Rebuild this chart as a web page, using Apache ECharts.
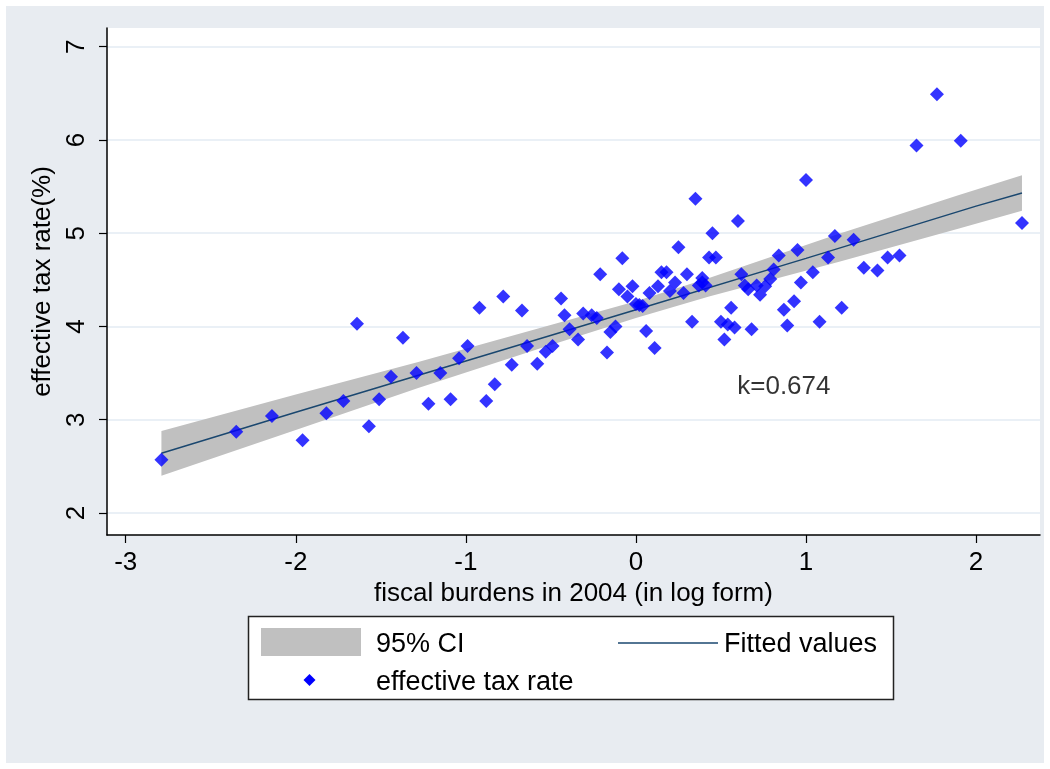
<!DOCTYPE html>
<html>
<head>
<meta charset="utf-8">
<script src="https://cdn.jsdelivr.net/npm/echarts@6/dist/echarts.min.js"></script>
<style>
  html, body { margin: 0; padding: 0; background: #ffffff; }
  #chart { width: 1050px; height: 769px; }
</style>
</head>
<body>
<div id="chart"></div>
<script>
// fiscal burdens in 2004 (log) and effective tax rate (%) for each observation
const burden = [
  -2.79, -2.35, -2.14, -1.96, -1.82, -1.72, -1.64, -1.57, -1.51, -1.44,
  -1.37, -1.29, -1.22, -1.15, -1.09, -1.04, -0.99, -0.92, -0.88, -0.83,
  -0.78, -0.73, -0.67, -0.64, -0.58, -0.53, -0.49, -0.44, -0.42, -0.39,
  -0.34, -0.31, -0.26, -0.23, -0.21, -0.17, -0.15, -0.12, -0.10, -0.08,
  -0.05, -0.02, 0.00, 0.02, 0.04, 0.06, 0.08, 0.11, 0.13, 0.15,
  0.18, 0.20, 0.23, 0.25, 0.28, 0.30, 0.33, 0.35, 0.37, 0.39,
  0.39, 0.41, 0.43, 0.45, 0.47, 0.50, 0.52, 0.54, 0.56, 0.58,
  0.60, 0.62, 0.64, 0.66, 0.68, 0.71, 0.73, 0.76, 0.79, 0.81,
  0.84, 0.87, 0.89, 0.93, 0.95, 0.97, 1.00, 1.04, 1.08, 1.13,
  1.17, 1.21, 1.28, 1.34, 1.42, 1.48, 1.55, 1.65, 1.77, 1.91,
  2.27
];
const taxRate = [
  2.57, 2.87, 3.04, 2.78, 3.07, 3.20, 4.03, 2.93, 3.22, 3.46,
  3.88, 3.50, 3.17, 3.50, 3.22, 3.66, 3.79, 4.20, 3.20, 3.38,
  4.32, 3.59, 4.17, 3.79, 3.60, 3.73, 3.79, 4.30, 4.12, 3.97,
  3.86, 4.14, 4.12, 4.09, 4.56, 3.72, 3.94, 4.00, 4.40, 4.73,
  4.32, 4.43, 4.24, 4.23, 4.22, 3.95, 4.36, 3.77, 4.43, 4.58,
  4.58, 4.38, 4.47, 4.85, 4.36, 4.56, 4.05, 5.37, 4.44, 4.52,
  4.47, 4.44, 4.74, 5.00, 4.74, 4.05, 3.86, 4.02, 4.20, 3.99,
  5.13, 4.56, 4.44, 4.40, 3.97, 4.44, 4.34, 4.43, 4.51, 4.61,
  4.76, 4.18, 4.01, 4.27, 4.82, 4.47, 5.57, 4.58, 4.05, 4.74,
  4.97, 4.20, 4.93, 4.63, 4.60, 4.74, 4.76, 5.94, 6.49, 5.99,
  5.11
];

// fitted values
const fitX = [-2.79, -2, -1, 0, 1, 2, 2.27];
const fitY = [2.64, 3.08, 3.63, 4.18, 4.73, 5.29, 5.43];

// 95% confidence band around the fit
const ciX    = [-2.79, -2.00, -1.28, -0.57, 0.00, 0.43, 1.19, 1.90, 2.27];
const ciLow  = [ 2.40,  2.89,  3.34,  3.76, 4.09, 4.32, 4.69, 5.05, 5.24];
const ciHigh = [ 2.88,  3.27,  3.62,  3.98, 4.27, 4.52, 4.99, 5.41, 5.62];

// slope annotation
const slopeLabel = 'k=0.674';
const slopeLabelAt = [0.87, 3.35];

const xTicks = [-3, -2, -1, 0, 1, 2];
const yTicks = [2, 3, 4, 5, 6, 7];

const FONT = 'Liberation Sans, Arial, sans-serif';
const BG = '#e8ecf1';
const navy = '#1a476f';

const points = burden.map((x, i) => [x, taxRate[i]]);
const fitLine = fitX.map((x, i) => [x, fitY[i]]);

const chart = echarts.init(document.getElementById('chart'), null, { renderer: 'canvas' });

chart.setOption({
  backgroundColor: '#ffffff',
  animation: false,
  textStyle: { fontFamily: FONT },
  grid: {
    left: 107, right: 10, top: 28, bottom: 234,
    show: true, backgroundColor: '#ffffff', borderWidth: 0
  },
  xAxis: {
    type: 'value',
    min: -3.11, max: 2.376,
    name: 'fiscal burdens in 2004 (in log form)',
    nameLocation: 'middle',
    nameGap: 43,
    nameTextStyle: { fontSize: 26, color: '#000', fontFamily: FONT },
    axisLine: { show: true, onZero: false, lineStyle: { color: '#000', width: 1.5 } },
    axisTick: { show: true, length: 8, lineStyle: { color: '#000', width: 1.2 }, customValues: xTicks },
    axisLabel: { fontSize: 26, color: '#000', margin: 15, customValues: xTicks, fontFamily: FONT },
    splitLine: { show: false }
  },
  yAxis: {
    type: 'value',
    min: 1.764, max: 7.2,
    name: 'effective tax rate(%)',
    nameLocation: 'middle',
    nameRotate: 90,
    nameGap: 48,
    nameTextStyle: { fontSize: 26, color: '#000', fontFamily: FONT },
    axisLine: { show: true, onZero: false, lineStyle: { color: '#000', width: 1.5 } },
    axisTick: { show: true, length: 8, lineStyle: { color: '#000', width: 1.2 }, customValues: yTicks },
    axisLabel: { fontSize: 26, color: '#000', rotate: 90, margin: 17, customValues: yTicks, fontFamily: FONT },
    splitLine: { show: true, lineStyle: { color: '#eaf0f6', width: 2 } }
  },
  graphic: [
    { type: 'rect', z: -10, silent: true,
      shape: { x: 6, y: 6, width: 1038, height: 757 },
      style: { fill: BG } },
    // legend box
    { type: 'rect', z: 10, silent: true,
      shape: { x: 248.5, y: 616.5, width: 645, height: 83 },
      style: { fill: '#ffffff', stroke: '#222', lineWidth: 1.5 } },
    { type: 'rect', z: 11, silent: true,
      shape: { x: 261, y: 628, width: 100, height: 28 },
      style: { fill: '#c0c0c0' } },
    { type: 'text', z: 11, silent: true, left: 376, top: 631,
      style: { text: '95% CI', fontSize: 27, fontFamily: FONT, fill: '#000' } },
    { type: 'line', z: 11, silent: true,
      shape: { x1: 618, y1: 643, x2: 718, y2: 643 },
      style: { stroke: navy, lineWidth: 1.5 } },
    { type: 'text', z: 11, silent: true, left: 724, top: 631,
      style: { text: 'Fitted values', fontSize: 27, fontFamily: FONT, fill: '#000' } },
    { type: 'polygon', z: 11, silent: true,
      shape: { points: [[309.5, 674], [315.5, 680], [309.5, 686], [303.5, 680]] },
      style: { fill: '#0000ff' } },
    { type: 'text', z: 11, silent: true, left: 376, top: 669,
      style: { text: 'effective tax rate', fontSize: 27, fontFamily: FONT, fill: '#000' } }
  ],
  series: [
    {
      name: '95% CI',
      type: 'custom',
      z: 1,
      silent: true,
      data: [0],
      renderItem: function (params, api) {
        const upper = ciX.map((x, i) => api.coord([x, ciHigh[i]]));
        const lower = ciX.map((x, i) => api.coord([x, ciLow[i]])).reverse();
        return {
          type: 'polygon',
          shape: { points: upper.concat(lower) },
          style: { fill: '#c0c0c0' }
        };
      }
    },
    {
      name: 'Fitted values',
      type: 'line',
      z: 2,
      data: fitLine,
      showSymbol: false,
      symbol: 'none',
      lineStyle: { color: navy, width: 1.5 }
    },
    {
      name: 'effective tax rate',
      type: 'scatter',
      z: 3,
      data: points,
      symbol: 'diamond',
      symbolSize: 14,
      itemStyle: { color: '#0000ff' }
    },
    {
      name: 'annotation',
      type: 'scatter',
      z: 4,
      silent: true,
      data: [slopeLabelAt],
      symbolSize: 0,
      label: {
        show: true,
        position: 'inside',
        formatter: slopeLabel,
        fontSize: 26,
        color: '#000',
        fontFamily: FONT
      }
    }
  ]
});
</script>
</body>
</html>
